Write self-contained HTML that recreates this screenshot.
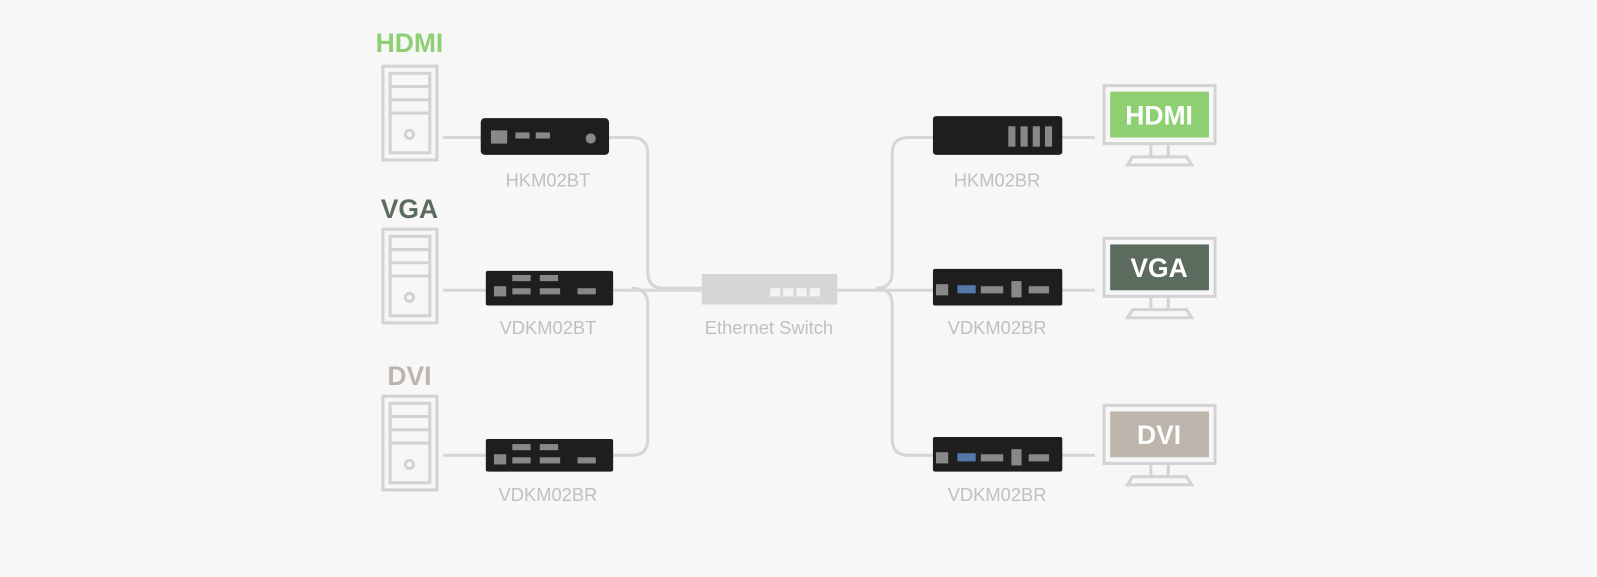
<!DOCTYPE html>
<html><head><style>
body{margin:0;background:#f7f7f7;}
svg{display:block}
text{font-family:"Liberation Sans",sans-serif}
</style></head><body>
<svg width="1597" height="577" viewBox="0 0 1568 566.5" preserveAspectRatio="none">
<rect width="1568" height="567" fill="#f7f7f7"/>
<g fill="none" stroke="#d6d6d6" stroke-width="3">
<path d="M435 135 H620 Q636 135 636 151 V267 Q636 283 652 283 H689"/>
<path d="M435 285 H689"/>
<path d="M435 447 H620 Q636 447 636 431 V299 Q636 283 620 283"/>
<path d="M822 285 H1075"/>
<path d="M860 283 Q876 283 876 267 V151 Q876 135 892 135 H1075"/>
<path d="M860 283 Q876 283 876 299 V431 Q876 447 892 447 H1075"/>
</g>
<g fill="none" stroke="#d3d3d3" stroke-width="3">
<g id="t"><rect x="376" y="65" width="53" height="92"/><rect x="383" y="72" width="39" height="78"/><line x1="383" y1="85" x2="422" y2="85"/><line x1="383" y1="98" x2="422" y2="98"/><line x1="383" y1="111" x2="422" y2="111"/><circle cx="402" cy="132" r="4"/></g>
<use href="#t" y="160"/><use href="#t" y="324"/>
</g>
<g font-weight="bold" font-size="26" text-anchor="middle">
<text x="402" y="51" fill="#8ecf72">HDMI</text>
<text x="402" y="214" fill="#5b6b5d">VGA</text>
<text x="402" y="378" fill="#bdb5ab">DVI</text>
</g>
<g fill="#1e1e1e">
<rect x="472" y="116" width="126" height="36" rx="4"/>
<rect x="477" y="266" width="125" height="34" rx="2"/>
<rect x="477" y="431" width="125" height="32" rx="2"/>
<rect x="916" y="114" width="127" height="38" rx="3"/>
<rect x="916" y="264" width="127" height="36" rx="2"/>
<rect x="916" y="429" width="127" height="34" rx="2"/>
</g>
<g fill="#888">
<rect x="482" y="128" width="16" height="13"/><rect x="506" y="130" width="14" height="6"/><rect x="526" y="130" width="14" height="6"/><circle cx="580" cy="136" r="5"/>
<rect x="485" y="281" width="12" height="10"/><rect x="503" y="270" width="18" height="6"/><rect x="530" y="270" width="18" height="6"/><rect x="503" y="283" width="18" height="6"/><rect x="530" y="283" width="20" height="6"/><rect x="567" y="283" width="18" height="6"/>
<rect x="485" y="446" width="12" height="10"/><rect x="503" y="436" width="18" height="6"/><rect x="530" y="436" width="18" height="6"/><rect x="503" y="449" width="18" height="6"/><rect x="530" y="449" width="20" height="6"/><rect x="567" y="449" width="18" height="6"/>
<rect x="990" y="124" width="7" height="20"/><rect x="1002" y="124" width="7" height="20"/><rect x="1014" y="124" width="7" height="20"/><rect x="1026" y="124" width="7" height="20"/>
<rect x="919" y="279" width="12" height="11"/><rect x="940" y="280" width="18" height="8" fill="#5577aa"/><rect x="963" y="281" width="22" height="7"/><rect x="993" y="276" width="10" height="16"/><rect x="1010" y="281" width="20" height="7"/>
<rect x="919" y="444" width="12" height="11"/><rect x="940" y="445" width="18" height="8" fill="#5577aa"/><rect x="963" y="446" width="22" height="7"/><rect x="993" y="441" width="10" height="16"/><rect x="1010" y="446" width="20" height="7"/>
</g>
<rect x="689" y="269" width="133" height="30" fill="#d6d6d6"/>
<g fill="#f3f3f3"><rect x="756" y="283" width="10" height="8"/><rect x="769" y="283" width="10" height="8"/><rect x="782" y="283" width="10" height="8"/><rect x="795" y="283" width="10" height="8"/></g>
<g font-size="18" fill="#c0c0c0" text-anchor="middle">
<text x="538" y="183">HKM02BT</text>
<text x="538" y="328">VDKM02BT</text>
<text x="538" y="492">VDKM02BR</text>
<text x="755" y="328">Ethernet Switch</text>
<text x="979" y="183">HKM02BR</text>
<text x="979" y="328">VDKM02BR</text>
<text x="979" y="492">VDKM02BR</text>
</g>
<g fill="none" stroke="#d3d3d3" stroke-width="3">
<rect x="1084" y="84" width="109" height="57"/><path d="M1130 141 V154 M1147 141 V154 M1112 154 H1165 L1170 162 H1107 Z"/>
<rect x="1084" y="234" width="109" height="57"/><path d="M1130 291 V304 M1147 291 V304 M1112 304 H1165 L1170 312 H1107 Z"/>
<rect x="1084" y="398" width="109" height="57"/><path d="M1130 455 V468 M1147 455 V468 M1112 468 H1165 L1170 476 H1107 Z"/>
</g>
<rect x="1090" y="90" width="97" height="45" fill="#8ecf72"/>
<rect x="1090" y="240" width="97" height="45" fill="#5b6b5d"/>
<rect x="1090" y="404" width="97" height="45" fill="#bdb5ab"/>
<g font-weight="bold" font-size="26" text-anchor="middle" fill="#fff">
<text x="1138" y="122">HDMI</text>
<text x="1138" y="272">VGA</text>
<text x="1138" y="436">DVI</text>
</g>
</svg>
</body></html>
